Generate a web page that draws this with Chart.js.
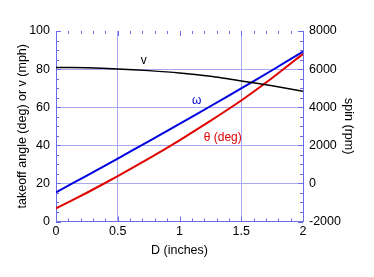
<!DOCTYPE html>
<html>
<head>
<meta charset="utf-8">
<script src="https://cdn.jsdelivr.net/npm/chart.js@4"></script>
<style>
  html, body { margin: 0; padding: 0; background: #fff; }
  #wrap { width: 374px; height: 277px; }
</style>
</head>
<body>
<div id="wrap"><canvas id="spinChart" width="374" height="277"></canvas></div>
<script>
// Data
const diameters = [0, 0.25, 0.5, 0.75, 1, 1.25, 1.5, 1.75, 2];
const speedMph = [80.9, 80.7, 80.1, 79.2, 78.0, 76.2, 73.8, 71.2, 68.4];
const takeoffDeg = [6.9, 15.1, 23.8, 33.0, 42.6, 52.8, 63.5, 75.3, 88.0];
const spinRpm = [-470, 410, 1300, 2210, 3130, 4050, 4990, 5940, 6920];
const xTicks = [0, 0.5, 1, 1.5, 2];
const leftTicks = [0, 20, 40, 60, 80, 100];
const rightTicks = [-2000, 0, 2000, 4000, 6000, 8000];

// Curve labels, in data coordinates of the left axis
const noteText = ['v', 'ω', 'θ (deg)'];
const noteD = [0.71, 1.14, 1.35];
const noteY = [84.4, 63.5, 44];
const noteColor = ['#000', '#0000e0', '#e00000'];

const borderBlue = '#6b6bea';
const gridBlue = '#a8a8f0';
const font = { family: 'Liberation Sans, Arial, sans-serif', size: 12.5 };

function pairs(ys) {
    return diameters.map((d, i) => ({ x: d, y: ys[i] }));
}

// Inward tick marks on all four sides, plus curve labels
const frameTicks = {
    id: 'frameTicks',
    afterDatasetsDraw(chart) {
        const { ctx, chartArea: a, scales } = chart;
        const x = scales.x, y = scales.y;
        ctx.save();
        ctx.strokeStyle = borderBlue;
        ctx.lineWidth = 1;
        ctx.beginPath();
        for (let i = 0; i <= 20; i++) {
            const v = i / 10;
            const px = Math.round(x.getPixelForValue(v)) + 0.5;
            const len = (i % 5 === 0) ? 5 : 3;
            ctx.moveTo(px, a.bottom); ctx.lineTo(px, a.bottom - len);
            ctx.moveTo(px, a.top); ctx.lineTo(px, a.top + len);
        }
        for (let v = 0; v <= 100; v += 5) {
            const py = Math.round(y.getPixelForValue(v)) + 0.5;
            const len = (v % 20 === 0) ? 5 : 3;
            ctx.moveTo(a.left, py); ctx.lineTo(a.left + len, py);
            ctx.moveTo(a.right, py); ctx.lineTo(a.right - len, py);
        }
        ctx.stroke();

        ctx.font = '12px Liberation Sans, Arial, sans-serif';
        ctx.textAlign = 'center';
        ctx.textBaseline = 'middle';
        noteText.forEach((t, i) => {
            ctx.fillStyle = noteColor[i];
            ctx.fillText(t, x.getPixelForValue(noteD[i]), y.getPixelForValue(noteY[i]));
        });
        ctx.restore();
    }
};

new Chart(document.getElementById('spinChart').getContext('2d'), {
    type: 'line',
    data: {
        datasets: [
            { data: pairs(speedMph), yAxisID: 'y', borderColor: '#000', borderWidth: 1.5 },
            { data: pairs(spinRpm), yAxisID: 'y2', borderColor: '#0000e0', borderWidth: 2 },
            { data: pairs(takeoffDeg), yAxisID: 'y', borderColor: '#e00000', borderWidth: 2 }
        ]
    },
    options: {
        responsive: false,
        animation: false,
        events: [],
        layout: { padding: { top: 31, right: 0, left: 0, bottom: 0 } },
        elements: { point: { radius: 0 }, line: { tension: 0.2, fill: false } },
        plugins: { legend: { display: false }, tooltip: { enabled: false } },
        scales: {
            x: {
                type: 'linear', min: 0, max: 2,
                afterBuildTicks: s => { s.ticks = xTicks.map(v => ({ value: v })); },
                afterFit: s => { s.height = 55.5; },
                ticks: { color: '#000', font, padding: 3, maxRotation: 0,
                         callback: v => String(v) },
                grid: { drawTicks: false,
                        color: c => (c.tick && (c.tick.value === 0.5 || c.tick.value === 1.5)) ? gridBlue : 'rgba(0,0,0,0)' },
                border: { color: borderBlue, width: 1 },
                title: { display: true, text: 'D (inches)', color: '#000', font, padding: { top: 0, bottom: 19 } }
            },
            y: {
                position: 'left', min: 0, max: 100,
                afterBuildTicks: s => { s.ticks = leftTicks.map(v => ({ value: v })); },
                afterFit: s => { s.width = 56; },
                ticks: { color: '#000', font, padding: 6 },
                grid: { drawTicks: false, color: c => (c.tick && c.tick.value > 0 && c.tick.value < 100) ? gridBlue : 'rgba(0,0,0,0)' },
                border: { color: borderBlue, width: 1 },
                title: { display: true, text: 'takeoff angle (deg) or v (mph)', color: '#000', font, padding: { top: 15, bottom: 0 } }
            },
            y2: {
                position: 'right', min: -2000, max: 8000,
                afterBuildTicks: s => { s.ticks = rightTicks.map(v => ({ value: v })); },
                afterFit: s => { s.width = 71; },
                ticks: { color: '#000', font, padding: 6, callback: v => String(v) },
                grid: { display: false, drawTicks: false },
                border: { color: borderBlue, width: 1 },
                title: { display: true, text: 'spin (rpm)', color: '#000', font, padding: { top: 18, bottom: 0 } }
            }
        }
    },
    plugins: [frameTicks]
});
</script>
</body>
</html>
